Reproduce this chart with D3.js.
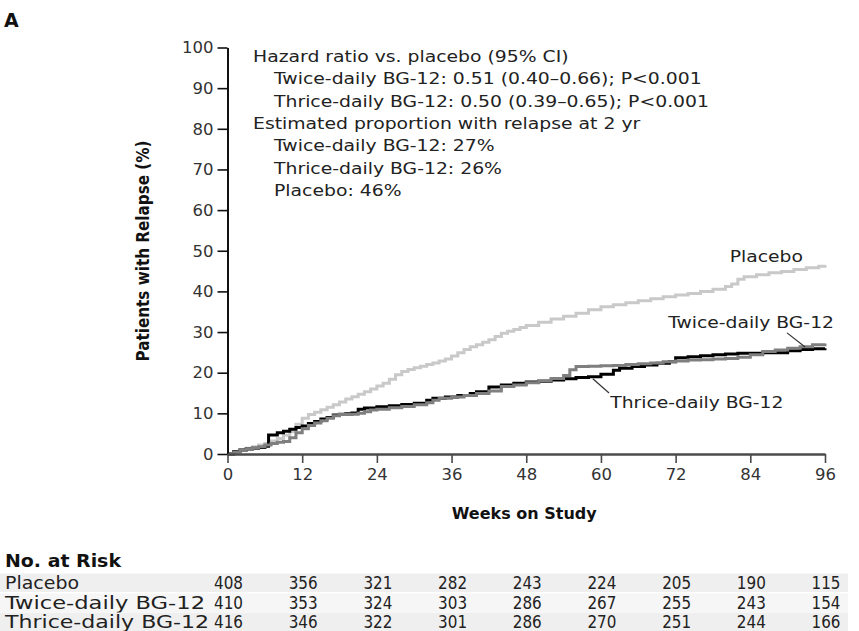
<!DOCTYPE html>
<html>
<head>
<meta charset="utf-8">
<script src="https://cdn.jsdelivr.net/npm/d3@7"></script>
<style>
  html, body { margin: 0; padding: 0; background: #fff; }
  svg { display: block; font-family: "DejaVu Sans", "Noto Sans", sans-serif; }
</style>
</head>
<body>
<svg id="chart" width="859" height="631"></svg>
<script>
// Cumulative relapse (%) by week on study, step curves
const placeboWeeks = [0,1,2,3,4,5,6,7,8,9,10,11,12,13,14,15,16,17,18,19,20,21,22,23,24,25,26,27,28,29,30,31,32,33,34,35,36,37,38,39,40,41,42,43,44,45,46,47,48,50,52,54,56,58,60,62,64,66,68,70,72,74,76,78,80,81,82,83,85,87,89,91,93,95,96];
const placeboPct   = [0,0.5,1.0,1.4,1.8,2.2,2.6,3.2,3.8,4.6,5.5,7.3,8.8,9.7,10.3,10.9,11.5,12.1,12.8,13.5,14.1,14.7,15.3,16.0,16.7,17.4,18.4,19.5,20.3,20.8,21.2,21.6,22.0,22.4,22.9,23.4,24.1,24.9,25.7,26.4,26.9,27.5,28.1,28.9,29.7,30.2,30.6,31.1,31.6,32.4,33.2,33.9,34.6,35.5,36.2,36.7,37.2,37.7,38.2,38.7,39.1,39.5,40.0,40.5,41.2,41.8,43.0,43.6,44.1,44.6,44.9,45.4,45.8,46.2,46.5];

const twiceWeeks = [0,1,2,3,4,5,6,7,8,9,10,11,12,13,14,15,16,17,18,19,20,21,22,23,24,26,28,30,32,33,34,36,38,40,42,44,46,48,50,52,54,55,56,58,60,62,64,66,68,70,72,74,76,78,80,82,84,86,88,90,92,94,96];
const twicePct   = [0,0.5,0.9,1.2,1.5,1.8,2.2,2.6,2.9,3.1,4.0,5.2,6.2,7.0,7.6,8.2,8.8,9.4,9.7,9.7,9.8,10.0,10.4,10.8,11.0,11.4,11.7,12.1,12.6,13.2,13.7,14.0,14.4,14.9,15.5,16.6,17.0,17.5,18.0,18.6,19.3,20.7,21.5,21.6,21.7,21.8,22.0,22.2,22.4,22.7,22.9,23.1,23.2,23.4,23.5,23.8,24.4,25.2,25.6,26.0,26.4,26.9,27.2];

const thriceWeeks = [0,1,2,3,4,5,6,6.6,8,9,10,11,12,13,14,15,16,17,18,19,20,21,22,24,26,28,30,32,33,35,37,39,40,42,44,46,48,50,52,54,56,58,60,62,63,65,67,69,71,72,74,76,78,80,82,84,86,88,90,92,94,96];
const thricePct   = [0,0.6,1.0,1.2,1.4,1.6,1.9,4.7,5.2,5.6,6.1,6.5,6.9,7.5,8.0,8.6,9.0,9.6,9.8,9.9,10.1,11.0,11.3,11.6,11.9,12.2,12.5,13.2,13.7,14.0,14.4,14.9,15.3,16.5,17.0,17.4,17.7,17.9,18.2,18.5,18.8,19.0,19.6,20.6,21.1,21.5,21.9,22.3,22.7,23.7,23.9,24.2,24.4,24.6,24.8,24.8,24.9,24.9,25.4,25.7,25.9,26.0];

// Axis ticks
const xTicks = [0,12,24,36,48,60,72,84,96];
const yTicks = [0,10,20,30,40,50,60,70,80,90,100];

// Number at risk at each tick week
const riskGroups  = ["Placebo", "Twice-daily BG-12", "Thrice-daily BG-12"];
const riskPlacebo = [408,356,321,282,243,224,205,190,115];
const riskTwice   = [410,353,324,303,286,267,255,243,154];
const riskThrice  = [416,346,322,301,286,270,251,244,166];

// Summary statistics shown in the inset text
const summaryLines = [
  {text: "Hazard ratio vs. placebo (95% CI)", indent: false},
  {text: "Twice-daily BG-12: 0.51 (0.40\u20130.66); P<0.001", indent: true},
  {text: "Thrice-daily BG-12: 0.50 (0.39\u20130.65); P<0.001", indent: true},
  {text: "Estimated proportion with relapse at 2 yr", indent: false},
  {text: "Twice-daily BG-12: 27%", indent: true},
  {text: "Thrice-daily BG-12: 26%", indent: true},
  {text: "Placebo: 46%", indent: true}
];

const svg = d3.select("#chart");

const x = d3.scaleLinear().domain([0, 96]).range([227.5, 825]);
const y = d3.scaleLinear().domain([0, 100]).range([454, 47.5]);

// Widen body text slightly so it sets like a broad humanist sans
function widen(sel, factor) {
  sel.each(function () {
    const w = this.getComputedTextLength();
    d3.select(this).attr("textLength", w * factor).attr("lengthAdjust", "spacingAndGlyphs");
  });
}

// Panel letter
svg.append("text").attr("x", 4).attr("y", 27)
  .attr("font-size", 19).attr("font-weight", "bold").attr("fill", "#111")
  .text("A");

// Curves
const line = d3.line().x(d => x(d[0])).y(d => y(d[1])).curve(d3.curveStepAfter);
const series = [
  {weeks: placeboWeeks, pct: placeboPct, color: "#c9c9c9"},
  {weeks: thriceWeeks,  pct: thricePct,  color: "#000000"},
  {weeks: twiceWeeks,   pct: twicePct,   color: "#7f7f7f"}
];
svg.append("g").selectAll("path").data(series).join("path")
  .attr("d", s => line(d3.zip(s.weeks, s.pct)))
  .attr("fill", "none")
  .attr("stroke", s => s.color)
  .attr("stroke-width", 3);

// Y axis
const yAxis = svg.append("g").attr("transform", `translate(${x(0)},0)`)
  .call(d3.axisLeft(y).tickValues(yTicks).tickSize(10).tickSizeOuter(0).tickPadding(4));
yAxis.select(".domain").attr("stroke", "#111").attr("stroke-width", 2);
yAxis.selectAll(".tick line").attr("stroke", "#111").attr("stroke-width", 1.6);
yAxis.selectAll(".tick text").attr("font-size", 16.5).attr("fill", "#333")
  .attr("font-family", "DejaVu Sans");

// X axis
const xAxis = svg.append("g").attr("transform", `translate(0,${y(0)})`)
  .call(d3.axisBottom(x).tickValues(xTicks).tickSize(9).tickSizeOuter(0).tickPadding(5));
xAxis.select(".domain").attr("stroke", "#4a4a4a").attr("stroke-width", 2.6);
xAxis.selectAll(".tick line").attr("stroke", "#4a4a4a").attr("stroke-width", 1.6);
xAxis.selectAll(".tick text").attr("font-size", 16.5).attr("fill", "#333")
  .attr("font-family", "DejaVu Sans");

// Axis titles
svg.append("text").attr("x", x(48) - 2).attr("y", 519)
  .attr("text-anchor", "middle").attr("font-size", 16).attr("font-weight", "bold")
  .attr("fill", "#111").text("Weeks on Study");

svg.append("text")
  .attr("transform", "translate(149,251) rotate(-90)")
  .attr("text-anchor", "middle").attr("font-size", 17).attr("font-weight", "bold")
  .attr("fill", "#111")
  .attr("textLength", 221).attr("lengthAdjust", "spacingAndGlyphs")
  .text("Patients with Relapse (%)");

// Inset statistics
const summary = svg.append("g").selectAll("text").data(summaryLines).join("text")
  .attr("x", d => d.indent ? 274 : 253)
  .attr("y", (d, i) => 62 + i * 22.3)
  .attr("font-size", 15.8).attr("fill", "#222")
  .text(d => d.text);
widen(summary, 1.19);

// Curve labels with leader lines
const labels = [
  {text: "Placebo", wk: 80.7, pct: 47.2},
  {text: "Twice-daily BG-12", wk: 70.8, pct: 31.0},
  {text: "Thrice-daily BG-12", wk: 61.5, pct: 11.3}
];
const curveLabels = svg.append("g").selectAll("text").data(labels).join("text")
  .attr("x", d => x(d.wk)).attr("y", d => y(d.pct))
  .attr("font-size", 16).attr("fill", "#222")
  .text(d => d.text);
widen(curveLabels, 1.17);

const leaders = [
  {from: [89.9, 29.8], to: [92.8, 26.3]},
  {from: [58.7, 18.5], to: [61.3, 15.0]}
];
svg.append("g").selectAll("line").data(leaders).join("line")
  .attr("x1", d => x(d.from[0])).attr("y1", d => y(d.from[1]))
  .attr("x2", d => x(d.to[0])).attr("y2", d => y(d.to[1]))
  .attr("stroke", "#333").attr("stroke-width", 1.2);

// Number-at-risk table
svg.append("text").attr("x", 5).attr("y", 567)
  .attr("font-size", 18).attr("font-weight", "bold").attr("fill", "#111")
  .attr("textLength", 116).attr("lengthAdjust", "spacingAndGlyphs")
  .text("No. at Risk");

const riskRows = [riskPlacebo, riskTwice, riskThrice];
const rowY = [583, 603, 622];
const rowFill = ["#efefef", "#f6f6f6", "#efefef"];
const labelWidths = [74, 200, 204];

const table = svg.append("g");
riskRows.forEach((vals, r) => {
  table.append("rect").attr("x", 0).attr("y", rowY[r] - 9.5)
    .attr("width", 848).attr("height", 18.5).attr("fill", rowFill[r]);
  table.append("text").attr("x", 5).attr("y", rowY[r] + 6)
    .attr("font-size", 17).attr("fill", "#222")
    .attr("textLength", labelWidths[r]).attr("lengthAdjust", "spacingAndGlyphs")
    .text(riskGroups[r]);
  table.selectAll(null).data(vals).join("text")
    .attr("x", (d, i) => x(xTicks[i]) + 1).attr("y", rowY[r] + 6)
    .attr("text-anchor", "middle").attr("font-size", 17).attr("fill", "#222")
    .attr("textLength", 29).attr("lengthAdjust", "spacingAndGlyphs")
    .text(d => d);
});
</script>
</body>
</html>
